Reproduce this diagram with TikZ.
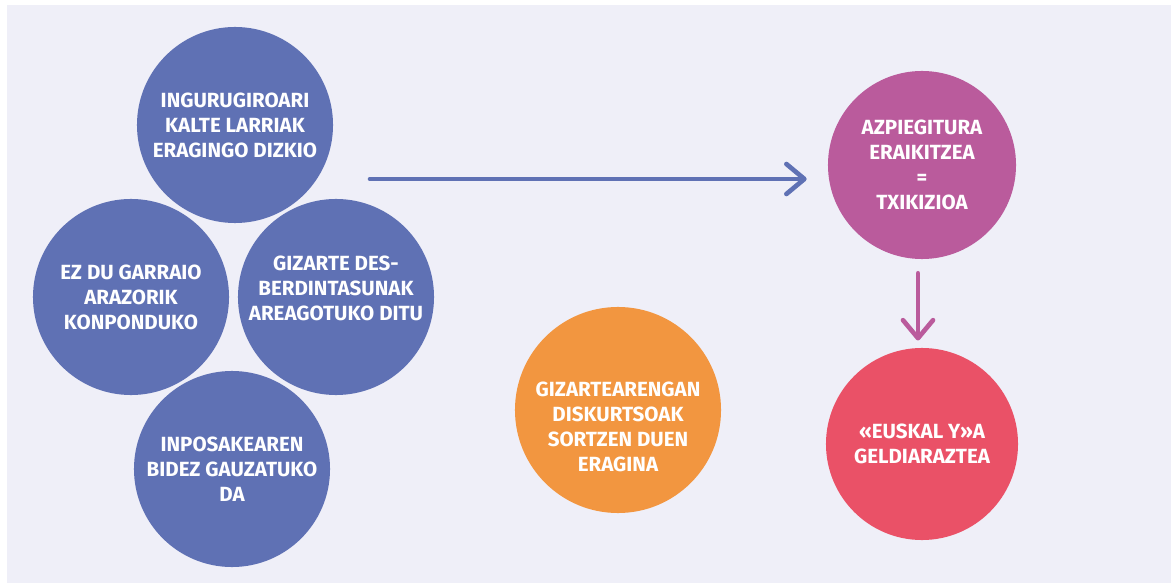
\documentclass[tikz,border=0pt]{standalone}
\usepackage{fontspec}
\setmainfont{Fira Sans}
\usepackage{tikz}
\usetikzlibrary{arrows.meta}

\definecolor{bgviolet}{HTML}{EFEFF8}
\definecolor{circblue}{HTML}{5F71B4}
\definecolor{circpurple}{HTML}{BA5B9C}
\definecolor{circred}{HTML}{EA5167}
\definecolor{circorange}{HTML}{F29640}

\tikzset{
	bubble/.style={circle, draw=none, inner sep=0pt, text=white, align=center,
		font=\bfseries\fontsize{14.6}{17.8}\selectfont},
	bubbletext/.style={text=white, align=center, inner sep=0pt,
		font=\bfseries\fontsize{14.6}{17.8}\selectfont},
	flow/.style={line width=3.3pt, line cap=round,
		-{Straight Barb[length=0.45cm, width=0.75cm, round]}}
}

\begin{document}
\begin{tikzpicture}[x=0.025cm, y=-0.025cm]
		\useasboundingbox (0, 0) rectangle (1171, 583);
		\fill [bgviolet] (7, 5) rectangle (1171, 583);
		% left group
		\node [bubble, fill=circblue, minimum size=4.9cm] (ingurugiro) at (235, 125) {INGURUGIROARI\\KALTE LARRIAK\\ERAGINGO DIZKIO};
		\node [bubble, fill=circblue, minimum size=4.9cm] (garraio) at (131, 297) {EZ DU GARRAIO\\ARAZORIK\\KONPONDUKO};
		\node [bubble, fill=circblue, minimum size=4.9cm] (desberdin) at (336, 297) {};
		\node [bubbletext] (desberdintext) at ([yshift=0.225cm]desberdin.center) {GIZARTE DES-\\BERDINTASUNAK\\AREAGOTUKO DITU};
		\node [bubble, fill=circblue, minimum size=4.9cm] (inposaketa) at (232, 469) {INPOSAKEAREN\\BIDEZ GAUZATUKO\\DA};
		% middle
		\node [bubble, fill=circorange, minimum size=5.15cm] (diskurtso) at (618, 410) {};
		\node [bubbletext] (diskurtsotext) at ([yshift=-0.425cm]diskurtso.center) {GIZARTEARENGAN\\DISKURTSOAK\\SORTZEN DUEN\\ERAGINA};
		% right column
		\node [bubble, fill=circpurple, minimum size=4.7cm] (azpiegitura) at (922, 165) {AZPIEGITURA\\ERAIKITZEA\\=\\TXIKIZIOA};
		\node [bubble, fill=circred, minimum size=4.8cm] (euskaly) at (922, 444) {«EUSKAL Y»A\\GELDIARAZTEA};
		% arrows
		\coordinate (flowstart) at (370, 179);
		\draw [flow, circblue, shorten >=0.525cm] (flowstart) -- (flowstart -| azpiegitura.west);
		\draw [flow, circpurple, shorten <=0.35cm, shorten >=0.18cm] ([xshift=-0.1cm]azpiegitura.south) -- ([xshift=-0.1cm]euskaly.north);
	\end{tikzpicture}
\end{document}
